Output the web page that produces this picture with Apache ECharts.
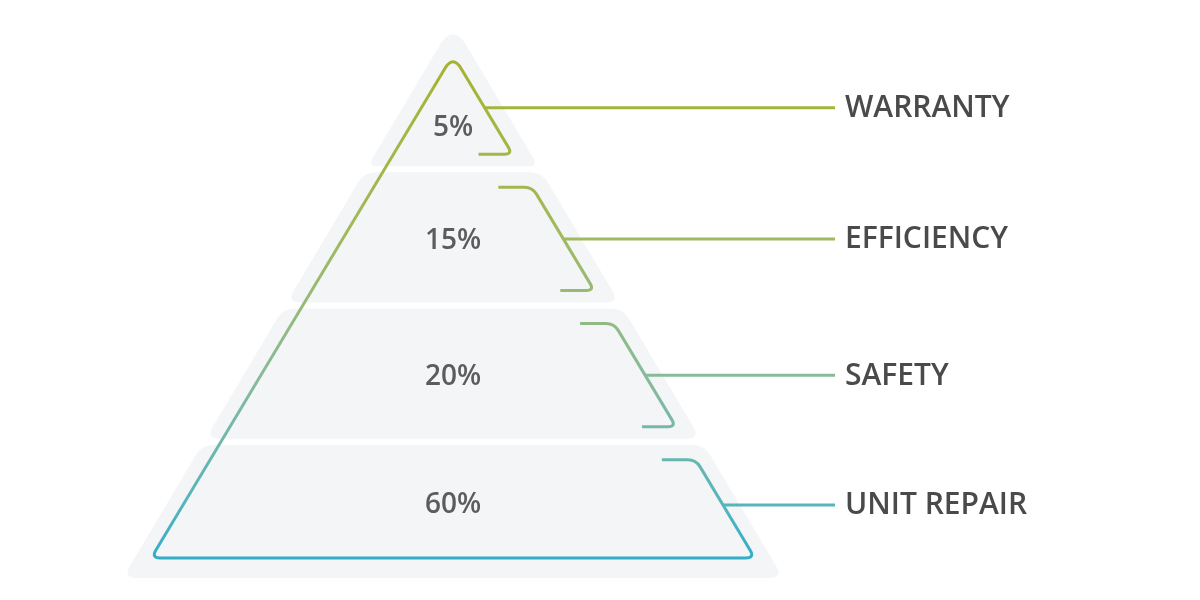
<!DOCTYPE html>
<html>
<head>
<meta charset="utf-8">
<script src="https://cdn.jsdelivr.net/npm/echarts@6/dist/echarts.min.js"></script>
<style>
  html, body { margin: 0; background: #fff; }
  #chart { width: 1200px; height: 600px; }
</style>
</head>
<body>
<div id="chart"></div>
<script>
// pyramid layers, top to bottom
const categories = ['WARRANTY', 'EFFICIENCY', 'SAFETY', 'UNIT REPAIR'];
const shares = [5, 15, 20, 60];

const CENTER_X = 453;
const LEADER_END = 835;
const LABEL_X = 845;
const GAP = 6;
const TAIL = 34;
const GRAY_SLOPE = 0.595;
const LINE_SLOPE = 0.6;

const strokeStops = [
  { offset: 0, color: '#a6b22e' },
  { offset: 0.35, color: '#a2b95c' },
  { offset: 0.65, color: '#87ba9c' },
  { offset: 0.9, color: '#55b4bc' },
  { offset: 1, color: '#33adc8' }
];

function roundedPath(pts, radii, closed) {
  const n = pts.length;
  const f = p => p[0].toFixed(2) + ' ' + p[1].toFixed(2);
  const corner = i => {
    const p = pts[i], a = pts[(i - 1 + n) % n], b = pts[(i + 1) % n];
    const r = radii[i] || 0;
    if (!r) return ' L' + f(p);
    const la = Math.hypot(a[0] - p[0], a[1] - p[1]);
    const lb = Math.hypot(b[0] - p[0], b[1] - p[1]);
    const p1 = [p[0] + (a[0] - p[0]) * r / la, p[1] + (a[1] - p[1]) * r / la];
    const p2 = [p[0] + (b[0] - p[0]) * r / lb, p[1] + (b[1] - p[1]) * r / lb];
    return ' L' + f(p1) + ' Q' + f(p) + ' ' + f(p2);
  };
  let d;
  if (closed) {
    const s = pts[n - 1], e = pts[0];
    d = 'M' + f([(s[0] + e[0]) / 2, (s[1] + e[1]) / 2]);
    for (let i = 0; i < n; i++) d += corner(i);
    d += ' Z';
  } else {
    d = 'M' + f(pts[0]);
    for (let i = 1; i < n - 1; i++) d += corner(i);
    d += ' L' + f(pts[n - 1]);
  }
  return d;
}

function renderItem(params, api) {
  const i = api.value(0);
  const last = categories.length - 1;
  const band = api.size([0, 1])[1];
  const c = api.coord([CENTER_X, i]);
  const cx = c[0];
  const gridTop = api.coord([CENTER_X, 0])[1] - band / 2;
  const grayApex = gridTop - 10;
  const lineApex = gridTop + 22;
  const grayHalf = y => GRAY_SLOPE * (y - grayApex);
  const xR = y => cx + LINE_SLOPE * (y - lineApex);
  const xL = y => cx - LINE_SLOPE * (y - lineApex);

  const top = c[1] - band / 2 + GAP / 2;
  const bot = c[1] + band / 2 - (i === last ? 0 : GAP / 2);
  const lineTop = i === 0 ? lineApex : top + 15;
  const lineBot = bot - (i === last ? 20 : 12);

  const stroke = new echarts.graphic.LinearGradient(0, lineApex, 0, api.coord([CENTER_X, last])[1] + band / 2 - 20, strokeStops, true);
  const lineStyle = { stroke: stroke, fill: null, lineWidth: 3, lineJoin: 'round' };

  const children = [];

  // gray layer
  let grayPts, grayR;
  if (i === 0) {
    grayPts = [[cx, grayApex], [cx + grayHalf(bot), bot], [cx - grayHalf(bot), bot]];
    grayR = [26, 10, 10];
  } else {
    grayPts = [[cx - grayHalf(top), top], [cx + grayHalf(top), top], [cx + grayHalf(bot), bot], [cx - grayHalf(bot), bot]];
    grayR = [12, 12, 14, 14];
  }
  children.push({
    type: 'path', z2: 0,
    shape: { pathData: roundedPath(grayPts, grayR, true) },
    style: { fill: '#f3f5f7' }
  });

  // outline
  if (i === 0) {
    const c3 = api.coord([CENTER_X, last])[1];
    const lTop = c3 - band / 2 + GAP / 2 + 15;
    const lBot = c3 + band / 2 - 20;
    const pts = [
      [xR(lineBot) - TAIL, lineBot], [xR(lineBot), lineBot], [cx, lineApex],
      [xL(lBot), lBot], [xR(lBot), lBot], [xR(lTop), lTop], [xR(lTop) - TAIL, lTop]
    ];
    children.push({
      type: 'path', z2: 10,
      shape: { pathData: roundedPath(pts, [0, 8, 16, 9, 9, 8, 0], false) },
      style: lineStyle
    });
  } else if (i < last) {
    const pts = [[xR(lineTop) - TAIL, lineTop], [xR(lineTop), lineTop], [xR(lineBot), lineBot], [xR(lineBot) - TAIL, lineBot]];
    children.push({
      type: 'path', z2: 10,
      shape: { pathData: roundedPath(pts, [0, 8, 8, 0], false) },
      style: lineStyle
    });
  }

  // leader line + label
  let ly = (lineTop + lineBot) / 2;
  if (i === 0) ly += 3;
  if (i === last) ly -= 4;
  children.push({
    type: 'line', z2: 10,
    shape: { x1: xR(ly), y1: ly, x2: api.coord([LEADER_END, i])[0], y2: ly },
    style: { stroke: stroke, lineWidth: 3 }
  });
  children.push({
    type: 'text', z2: 20,
    style: {
      text: categories[i], x: api.coord([LABEL_X, i])[0], y: ly + 1,
      fill: '#4a4a4a', fontSize: 30, fontWeight: 600, fontFamily: '"Open Sans", sans-serif',
      align: 'left', verticalAlign: 'middle'
    }
  });
  children.push({
    type: 'text', z2: 20,
    style: {
      text: api.value(1) + '%', x: cx, y: ly + (i === 0 ? 20 : i === last ? 0 : 2),
      fill: '#5c5c5c', fontSize: 28, fontWeight: 600, fontFamily: '"Open Sans", sans-serif',
      align: 'center', verticalAlign: 'middle'
    }
  });

  return { type: 'group', children: children };
}

const chart = echarts.init(document.getElementById('chart'));
chart.setOption({
  animation: false,
  backgroundColor: '#ffffff',
  grid: { left: 0, right: 0, top: 33, bottom: 22 },
  xAxis: { type: 'value', min: 0, max: 1200, show: false },
  yAxis: { type: 'category', data: categories, inverse: true, show: false },
  series: [{
    type: 'custom',
    renderItem: renderItem,
    encode: { y: 0 },
    data: categories.map((name, i) => [i, shares[i]])
  }]
});
</script>
</body>
</html>
